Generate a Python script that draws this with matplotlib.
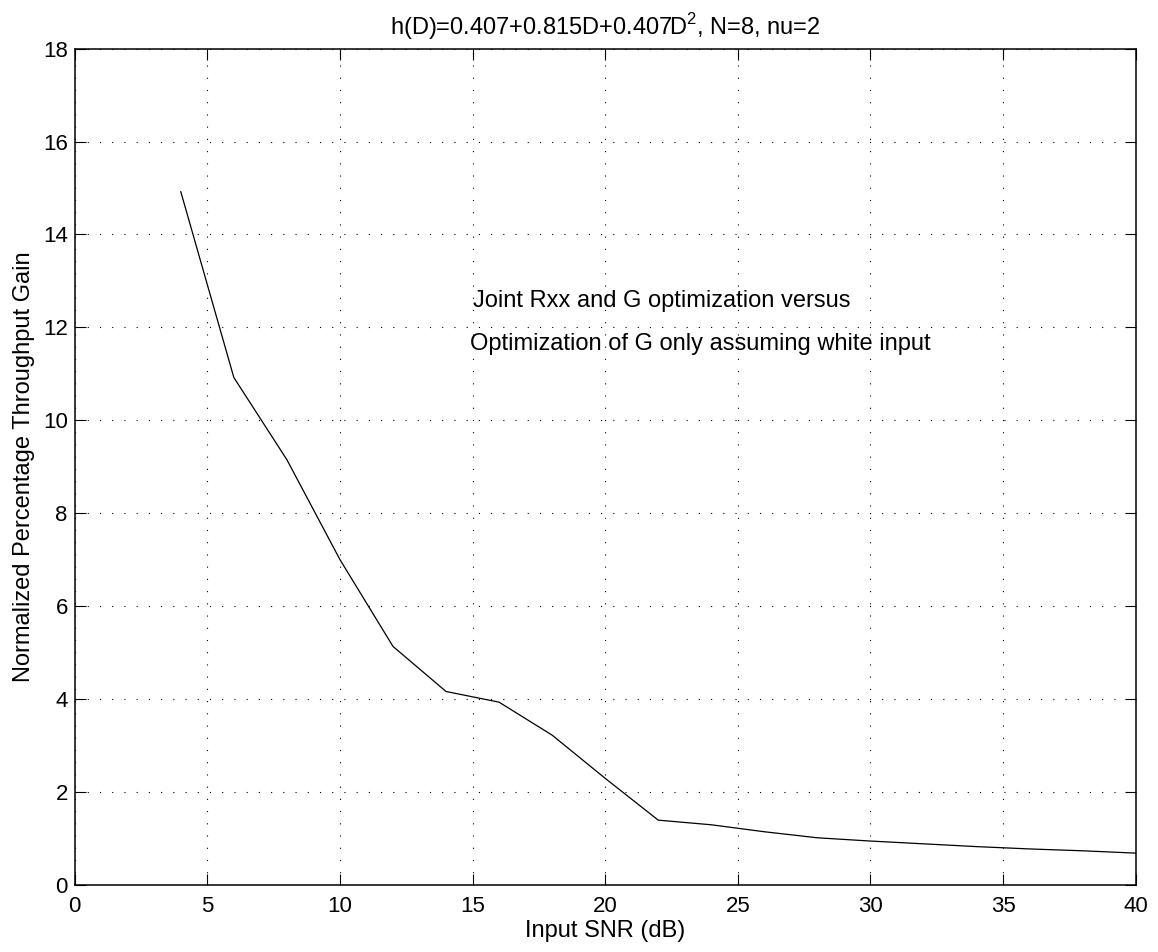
import matplotlib
matplotlib.use("Agg")
import matplotlib.pyplot as plt

snr_db = [4, 6, 8, 10, 12, 14, 16, 18, 20, 22, 24, 26, 28, 30, 32, 34, 36, 38, 40]
gain = [14.92, 10.92, 9.15, 7.0, 5.13, 4.16, 3.93, 3.22, 2.29, 1.39, 1.29, 1.14,
        1.01, 0.94, 0.88, 0.82, 0.77, 0.73, 0.68]
xticks = [0, 5, 10, 15, 20, 25, 30, 35, 40]
yticks = [0, 2, 4, 6, 8, 10, 12, 14, 16, 18]

plt.rcParams['font.family'] = ['Liberation Sans', 'DejaVu Sans']
plt.rcParams['mathtext.fontset'] = 'custom'
plt.rcParams['mathtext.rm'] = 'Liberation Sans'

fig = plt.figure(figsize=(11.58, 9.52), dpi=100)
ax = fig.add_axes([74.7/1158, 1 - 884.7/952, (1135.7-74.7)/1158, (884.7-48.7)/952])

ax.plot(snr_db, gain, color='black', linewidth=0.9)
ax.set_xlim(0, 40)
ax.set_ylim(0, 18)
ax.set_xticks(xticks)
ax.set_yticks(yticks)
ax.grid(True, color='black', linestyle=(0, (1, 10)), linewidth=0.8)
ax.tick_params(direction='in', length=8, width=0.8, top=True, right=True,
               labelsize=16, colors='black')
ax.tick_params(axis='x', pad=8)
ax.tick_params(axis='y', pad=5)
for s in ax.spines.values():
    s.set_linewidth(1.1)

ax.set_title(r'h(D)=0.407+0.815D+0.407D$^{\mathrm{2}}$, N=8, nu=2', fontsize=17, pad=10)
ax.set_xlabel('Input SNR (dB)', fontsize=17, labelpad=2)
ax.set_ylabel('Normalized Percentage Throughput Gain', fontsize=17, labelpad=6)

ax.text(15.0, 12.44, 'Joint Rxx and G optimization versus', fontsize=17)
ax.text(14.92, 11.52, 'Optimization of G only assuming white input', fontsize=17)

fig.savefig('out.png', dpi=100)
